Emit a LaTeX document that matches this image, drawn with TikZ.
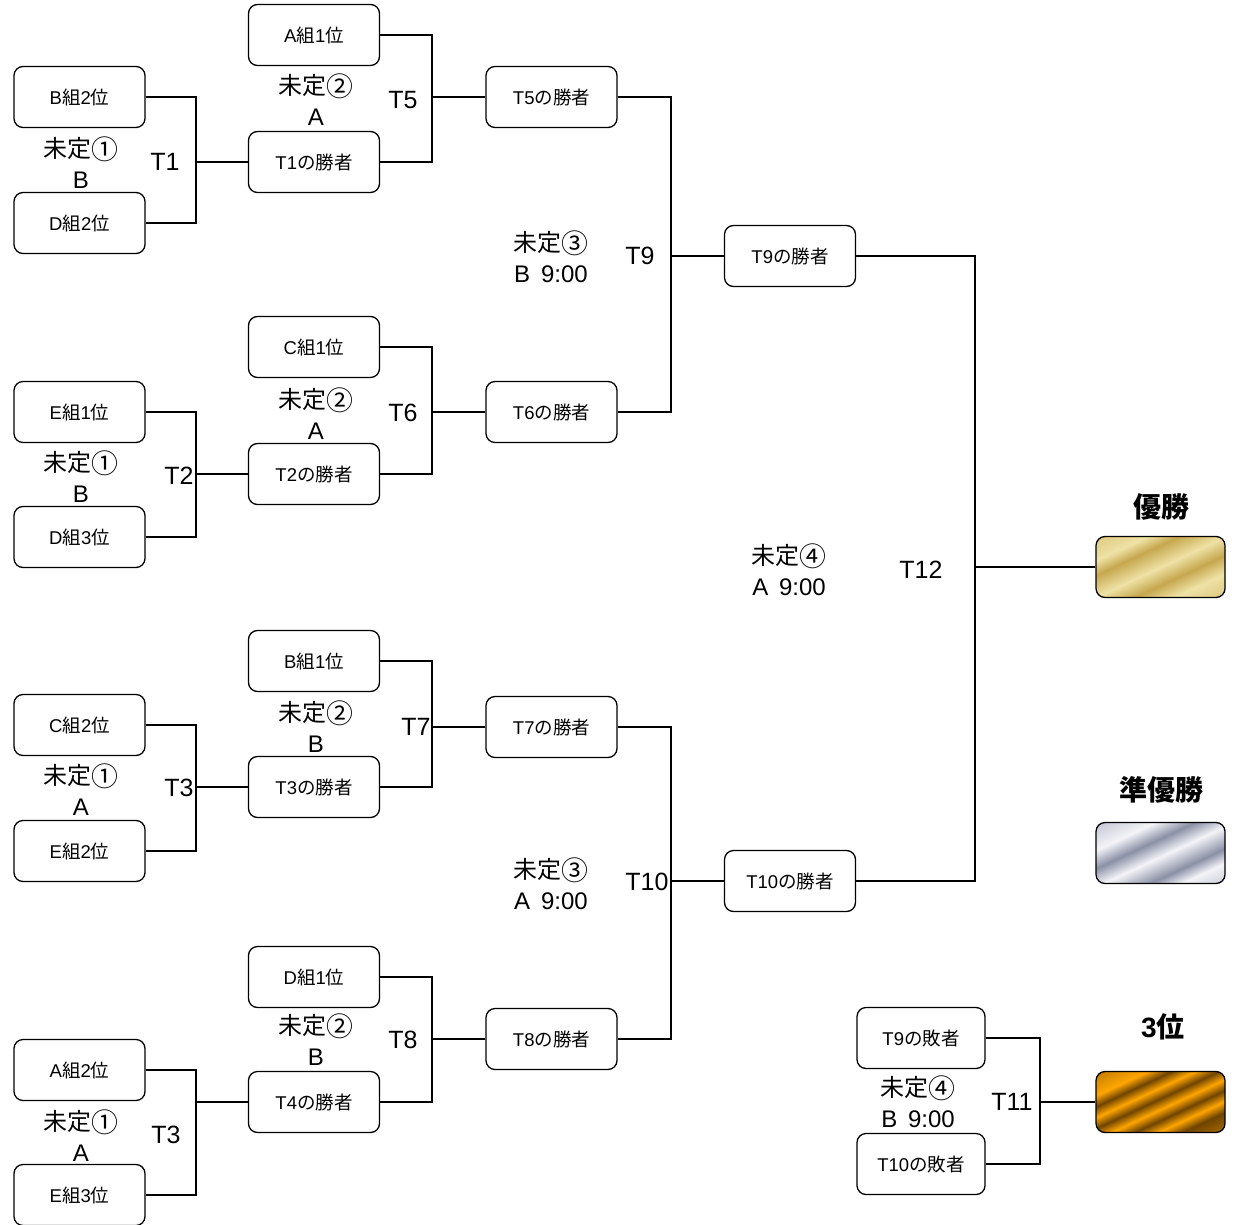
\documentclass[tikz,border=0pt]{standalone}
\usepackage{fontspec}
\setmainfont{Liberation Sans}
\newfontfamily\jp{Noto Sans CJK JP}
\newcommand\J[1]{{\jp #1}}
\newcommand\C[1]{\raisebox{-0.08em}{\scalebox{1.12}{\jp #1}}}
\definecolor{goldA}{HTML}{C6A74E}
\definecolor{goldB}{HTML}{EFE2A6}
\definecolor{silA}{HTML}{8A90A6}
\definecolor{silB}{HTML}{F4F4F8}
\definecolor{brA}{HTML}{6E4400}
\definecolor{brB}{HTML}{FFA500}
\pgfdeclarehorizontalshading{goldshade}{100bp}{color(0bp)=(goldA); color(30bp)=(goldB); color(38bp)=(goldA); color(50bp)=(goldB); color(60bp)=(goldA); color(70bp)=(goldB); color(100bp)=(goldA)}
\pgfdeclarehorizontalshading{silshade}{100bp}{color(0bp)=(silA); color(32bp)=(silB); color(42bp)=(silA); color(52bp)=(silB); color(64bp)=(silA); color(72bp)=(silB); color(100bp)=(silA)}
\pgfdeclarehorizontalshading{brshade}{100bp}{color(0bp)=(brA); color(30bp)=(brB); color(36bp)=(brA); color(42bp)=(brB); color(48bp)=(brA); color(54bp)=(brB); color(60bp)=(brA); color(66bp)=(brB); color(72bp)=(brA); color(100bp)=(brB)}
\begin{document}
\begin{tikzpicture}[x=1pt,y=-1pt,
  team/.style={draw, line width=1.3pt, rounded corners=9pt, minimum width=131pt, minimum height=61pt, inner sep=0pt, font=\fontsize{18.5}{20}\selectfont},
  medal/.style={draw, line width=1.3pt, rounded corners=9pt, minimum width=129pt, minimum height=61pt, inner sep=0pt, shade, shading angle=-65},
  conn/.style={line width=1.8pt},
  lbl/.style={font=\fontsize{24}{31}\selectfont, align=center, inner sep=0pt},
  tl/.style={font=\fontsize{25}{28}\selectfont, inner sep=0pt},
  ttl/.style={font=\fontsize{28}{30}\selectfont\bfseries, inner sep=0pt}]
\useasboundingbox (0,0) rectangle (1239,1225);
% column 1
\node[team] (b2) at (79.5,97) {B\J{組}2\J{位}};
\node[team] (d2) at (79.5,223) {D\J{組}2\J{位}};
\node[team] (e1) at (79.5,412) {E\J{組}1\J{位}};
\node[team] (d3) at (79.5,537) {D\J{組}3\J{位}};
\node[team] (c2) at (79.5,725) {C\J{組}2\J{位}};
\node[team] (e2) at (79.5,851) {E\J{組}2\J{位}};
\node[team] (a2) at (79.5,1070) {A\J{組}2\J{位}};
\node[team] (e3) at (79.5,1195) {E\J{組}3\J{位}};
% column 2
\node[team] (a1) at (314,35) {A\J{組}1\J{位}};
\node[team] (w1) at (314,162) {T1\J{の勝者}};
\node[team] (c1) at (314,347) {C\J{組}1\J{位}};
\node[team] (w2) at (314,474) {T2\J{の勝者}};
\node[team] (b1) at (314,661) {B\J{組}1\J{位}};
\node[team] (w3) at (314,787) {T3\J{の勝者}};
\node[team] (d1) at (314,977) {D\J{組}1\J{位}};
\node[team] (w4) at (314,1102) {T4\J{の勝者}};
% column 3
\node[team] (w5) at (551.5,97) {T5\J{の勝者}};
\node[team] (w6) at (551.5,412) {T6\J{の勝者}};
\node[team] (w7) at (551.5,727) {T7\J{の勝者}};
\node[team] (w8) at (551.5,1039) {T8\J{の勝者}};
% column 4
\node[team] (w9) at (790,256) {T9\J{の勝者}};
\node[team] (w10) at (790,881) {T10\J{の勝者}};
% third place
\node[team, minimum width=128pt] (l9) at (921,1038) {T9\J{の敗者}};
\node[team, minimum width=128pt] (l10) at (921,1164) {T10\J{の敗者}};
% medals
\node[medal, shading=goldshade] (gold) at (1160.5,567) {};
\node[medal, shading=silshade] (silver) at (1160.5,853) {};
\node[medal, shading=brshade] (bronze) at (1160.5,1102) {};
% junctions
\coordinate (j1) at (196,162);
\coordinate (j2) at (196,474);
\coordinate (j3) at (196,787);
\coordinate (j4) at (196,1102);
\coordinate (j5) at (432,97);
\coordinate (j6) at (432,412);
\coordinate (j7) at (432,727);
\coordinate (j8) at (432,1039);
\coordinate (j9) at (671,256);
\coordinate (j10) at (671,881);
\coordinate (j12) at (975,567);
\coordinate (j11) at (1040,1102);
\draw[conn] (b2.east) -| (j1) |- (d2.east); \draw[conn] (j1) -- (w1.west);
\draw[conn] (e1.east) -| (j2) |- (d3.east); \draw[conn] (j2) -- (w2.west);
\draw[conn] (c2.east) -| (j3) |- (e2.east); \draw[conn] (j3) -- (w3.west);
\draw[conn] (a2.east) -| (j4) |- (e3.east); \draw[conn] (j4) -- (w4.west);
\draw[conn] (a1.east) -| (j5) |- (w1.east); \draw[conn] (j5) -- (w5.west);
\draw[conn] (c1.east) -| (j6) |- (w2.east); \draw[conn] (j6) -- (w6.west);
\draw[conn] (b1.east) -| (j7) |- (w3.east); \draw[conn] (j7) -- (w7.west);
\draw[conn] (d1.east) -| (j8) |- (w4.east); \draw[conn] (j8) -- (w8.west);
\draw[conn] (w5.east) -| (j9) |- (w6.east); \draw[conn] (j9) -- (w9.west);
\draw[conn] (w7.east) -| (j10) |- (w8.east); \draw[conn] (j10) -- (w10.west);
\draw[conn] (w9.east) -| (j12) |- (w10.east); \draw[conn] (j12) -- (gold.west);
\draw[conn] (l9.east) -| (j11) |- (l10.east); \draw[conn] (j11) -- (bronze.west);
% labels
\node[lbl] (m1a) at (81,162.5) {\J{未定}\C{①}\\B};
\node[lbl] (m1b) at (81,476.5) {\J{未定}\C{①}\\B};
\node[lbl] (m1c) at (81,790) {\J{未定}\C{①}\\A};
\node[lbl] (m1d) at (81,1136) {\J{未定}\C{①}\\A};
\node[lbl] (m2a) at (316,99.5) {\J{未定}\C{②}\\A};
\node[lbl] (m2b) at (316,414) {\J{未定}\C{②}\\A};
\node[lbl] (m2c) at (316,727) {\J{未定}\C{②}\\B};
\node[lbl] (m2d) at (316,1039.5) {\J{未定}\C{②}\\B};
\node[lbl] (m3a) at (551,256.5) {\J{未定}\C{③}\\B\hspace{0.45em}9:00};
\node[lbl] (m3b) at (551,884) {\J{未定}\C{③}\\A\hspace{0.45em}9:00};
\node[lbl] (m4a) at (789,570) {\J{未定}\C{④}\\A\hspace{0.45em}9:00};
\node[lbl] (m4b) at (918,1102) {\J{未定}\C{④}\\B\hspace{0.45em}9:00};
\node[tl] (t1) at (165,162) {T1};
\node[tl] (t2) at (179,476) {T2};
\node[tl] (t3) at (179,788) {T3};
\node[tl] (t3b) at (166,1135) {T3};
\node[tl] (t5) at (403,100) {T5};
\node[tl] (t6) at (403,413) {T6};
\node[tl] (t7) at (416,727) {T7};
\node[tl] (t8) at (403,1040) {T8};
\node[tl] (t9) at (640,256) {T9};
\node[tl] (t10) at (647,882) {T10};
\node[tl] (t12) at (921,570) {T12};
\node[tl] (t11) at (1012,1102) {T11};
\node[ttl] (win) at (1161,507) {\J{優勝}};
\node[ttl] (run) at (1161,790) {\J{準優勝}};
\node[ttl] (third) at (1163,1027) {3\J{位}};
\end{tikzpicture}
\end{document}
